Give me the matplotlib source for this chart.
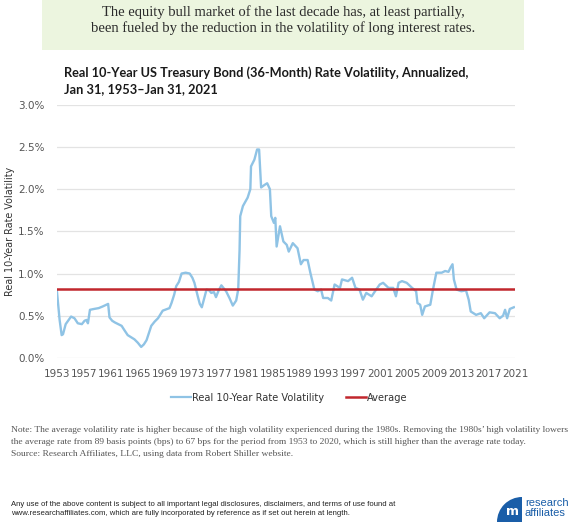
import matplotlib

matplotlib.use("Agg")
import matplotlib.pyplot as plt
from matplotlib.lines import Line2D
from matplotlib.patches import Rectangle, Wedge

# real 10-year rate volatility (36-month, annualized), in percent
years = [1953.0, 1953.4, 1953.7, 1953.9, 1954.3, 1955.1, 1955.6, 1956.1, 1956.7, 1957.1,
         1957.4, 1957.6, 1957.9, 1958.5, 1959.2, 1959.8, 1960.6, 1960.8, 1961.2, 1961.6,
         1962.6, 1963.0, 1963.5, 1964.5, 1965.0, 1965.5, 1965.9, 1966.3, 1967.0, 1967.5,
         1968.0, 1968.7, 1969.7, 1970.0, 1970.4, 1970.7, 1971.1, 1971.5, 1972.1, 1972.7,
         1973.1, 1973.4, 1973.9, 1974.2, 1974.5, 1975.2, 1975.6, 1975.9, 1976.3, 1976.6,
         1977.0, 1977.4, 1978.1, 1978.6, 1979.1, 1979.6, 1979.9, 1980.1, 1980.2, 1980.6,
         1981.3, 1981.7, 1981.8, 1982.3, 1982.7, 1983.0, 1983.3, 1983.8, 1984.2, 1984.6,
         1984.8, 1985.2, 1985.4, 1985.6, 1986.1, 1986.6, 1987.1, 1987.4, 1988.0, 1988.7,
         1989.2, 1989.6, 1990.2, 1990.6, 1991.2, 1991.7, 1992.2, 1992.5, 1993.2, 1993.7,
         1994.2, 1995.0, 1995.3, 1996.2, 1996.8, 1997.3, 1997.9, 1998.4, 1998.9, 1999.7,
         2000.2, 2000.9, 2001.4, 2002.2, 2002.9, 2003.3, 2003.7, 2004.2, 2004.9, 2005.7,
         2006.3, 2006.5, 2006.9, 2007.2, 2007.6, 2008.4, 2008.8, 2009.3, 2010.1, 2010.6,
         2011.1, 2011.4, 2011.7, 2011.9, 2012.3, 2013.0, 2013.7, 2014.1, 2014.4, 2015.2,
         2015.9, 2016.4, 2017.2, 2018.0, 2018.7, 2019.2, 2019.5, 2019.8, 2020.2, 2020.8]
volatility = [0.79, 0.45, 0.27, 0.28, 0.40, 0.49, 0.47, 0.41, 0.40, 0.44,
              0.45, 0.41, 0.57, 0.58, 0.59, 0.61, 0.64, 0.48, 0.44, 0.42,
              0.38, 0.33, 0.27, 0.22, 0.18, 0.13, 0.16, 0.21, 0.38, 0.43,
              0.47, 0.56, 0.59, 0.65, 0.75, 0.85, 0.90, 1.00, 1.01, 1.00,
              0.95, 0.89, 0.73, 0.64, 0.60, 0.81, 0.80, 0.77, 0.78, 0.72,
              0.80, 0.86, 0.79, 0.71, 0.62, 0.68, 0.81, 1.28, 1.68, 1.80,
              1.90, 2.00, 2.27, 2.35, 2.47, 2.47, 2.02, 2.05, 2.07, 2.00,
              1.68, 1.60, 1.66, 1.32, 1.56, 1.38, 1.34, 1.26, 1.36, 1.30,
              1.11, 1.16, 1.16, 1.01, 0.81, 0.79, 0.81, 0.71, 0.71, 0.68,
              0.87, 0.83, 0.93, 0.91, 0.95, 0.83, 0.81, 0.69, 0.77, 0.73,
              0.79, 0.87, 0.89, 0.83, 0.83, 0.73, 0.89, 0.91, 0.89, 0.83,
              0.79, 0.65, 0.63, 0.51, 0.61, 0.63, 0.81, 1.01, 1.01, 1.03,
              1.02, 1.07, 1.11, 0.93, 0.81, 0.79, 0.80, 0.69, 0.55, 0.51,
              0.53, 0.47, 0.54, 0.53, 0.47, 0.50, 0.57, 0.47, 0.58, 0.60]
average = 0.82
tick_years = list(range(1953, 2022, 4))
y_ticks = [0.0, 0.5, 1.0, 1.5, 2.0, 2.5, 3.0]

BLUE = "#8fc3e5"
RED = "#c1272d"
GREY = "#555555"
LOGO = "#1a5ea8"

fig = plt.figure(figsize=(5.75, 5.24), dpi=100)
fig.patch.set_facecolor("white")

# headline box
fig.add_artist(Rectangle((0.073, 0.9046), 0.838, 0.1, transform=fig.transFigure,
                         facecolor="#ecf5df", edgecolor="none"))
fig.text(0.492, 0.962,
         "The equity bull market of the last decade has, at least partially,\n"
         "been fueled by the reduction in the volatility of long interest rates.",
         ha="center", va="center", fontsize=10.5, family="Liberation Serif",
         color="#2b2b2b", linespacing=1.2)

fig.text(0.111, 0.846,
         "Real 10-Year US Treasury Bond (36-Month) Rate Volatility, Annualized,\n"
         "Jan 31, 1953\u2013Jan 31, 2021",
         ha="left", va="center", fontsize=9.2, family="Lato", weight="bold",
         color="#1a1a1a", linespacing=1.42)

ax = fig.add_axes([0.099, 0.317, 0.797, 0.483])
ax.plot(years, volatility, color=BLUE, lw=1.7, solid_joinstyle="round")
ax.axhline(average, color=RED, lw=1.8)

ax.set_xlim(1953, 2021)
ax.set_ylim(0, 3.0)
ax.set_xticks(tick_years)
ax.set_xticklabels([str(y) for y in tick_years])
ax.set_yticks(y_ticks)
ax.set_yticklabels([f"{v:.1f}%" for v in y_ticks])
ax.tick_params(length=0, labelsize=7.5, labelcolor=GREY)
ax.tick_params(axis="y", pad=9)
ax.tick_params(axis="x", pad=8)
ax.grid(axis="y", color="#e3e3e3", lw=0.9)
ax.set_axisbelow(True)
for s in ax.spines.values():
    s.set_visible(False)
ax.set_ylabel("Real 10-Year Rate Volatility", fontsize=6.9, color="#333333", labelpad=2)

handles = [Line2D([], [], color=BLUE, lw=1.6), Line2D([], [], color=RED, lw=1.8)]
fig.legend(handles, ["Real 10-Year Rate Volatility", "Average"], loc="center",
           bbox_to_anchor=(0.503, 0.241), ncol=2, frameon=False, fontsize=7.1,
           handlelength=2.0, handletextpad=0.1, columnspacing=2.3, labelcolor="#333333")

fig.text(0.019, 0.187,
         "Note: The average volatility rate is higher because of the high volatility experienced during the 1980s. "
         "Removing the 1980s\u2019 high volatility lowers\n"
         "the average rate from 89 basis points (bps) to 67 bps for the period from 1953 to 2020, "
         "which is still higher than the average rate today.\n"
         "Source: Research Affiliates, LLC, using data from Robert Shiller website.",
         ha="left", va="top", fontsize=6.8, family="Liberation Serif", color=GREY,
         linespacing=1.66)

fig.text(0.019, 0.0286,
         "Any use of the above content is subject to all important legal disclosures, disclaimers, "
         "and terms of use found at\n"
         "www.researchaffiliates.com, which are fully incorporated by reference as if set out herein at length.",
         ha="left", va="center", fontsize=5.6, family="Liberation Sans", color="#222222",
         linespacing=1.45)

# logo: quarter-disc badge plus wordmark
fig.add_artist(Wedge((5.22, 0.02), 0.25, 90, 180, transform=fig.dpi_scale_trans,
                     facecolor=LOGO, edgecolor="none"))
fig.text(0.891, 0.024, "m", ha="center", va="center", fontsize=9, weight="bold",
         color="white")
fig.text(0.913, 0.0296, "research\naffiliates", ha="left", va="center", fontsize=8,
         family="Liberation Sans", color=LOGO, linespacing=1.0)

fig.savefig("out.png", dpi=100)
